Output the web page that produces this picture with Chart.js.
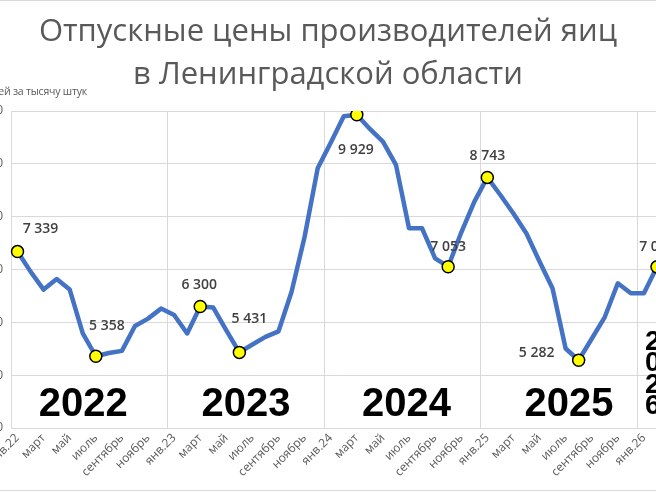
<!DOCTYPE html>
<html lang="ru">
<head>
<meta charset="utf-8">
<script src="https://cdn.jsdelivr.net/npm/chart.js@4.4.1/dist/chart.umd.min.js"></script>
<style>
  html,body{margin:0;padding:0;background:#fff;}
  body{width:656px;height:493px;overflow:hidden;position:relative;font-family:"Open Sans",sans-serif;}
  #frame{position:absolute;left:-10px;top:0;width:700px;height:489px;border-top:1px solid #d9d9d9;border-bottom:1px solid #d9d9d9;}
  #cv{position:absolute;left:-59px;top:0;}
  .title{position:absolute;left:0;width:656px;text-align:center;color:#595959;font-size:31px;line-height:1;white-space:nowrap;}
  #unit{position:absolute;right:569px;top:84px;font-size:10.5px;color:#595959;white-space:nowrap;letter-spacing:-0.2px;}
</style>
</head>
<body>
<div id="frame"></div>
<canvas id="cv" width="730" height="493" style="width:730px;height:493px"></canvas>
<div class="title" style="top:14px">Отпускные цены производителей яиц</div>
<div class="title" style="top:57px">в Ленинградской области</div>
<div id="unit">рублей за тысячу штук</div>
<script>
  // Data
  const years=['22','23','24','25','26'];
  const monthNames=['янв','февраль','март','апрель','май','июнь','июль','август','сентябрь','октябрь','ноябрь','декабрь'];
  // Jan 2022 .. Feb 2026, рублей за 1000 шт.
  const prices=[
    7339,6960,6620,6820,6620,5790,5358,5420,5460,5930,6070,6260,
    6140,5790,6300,6280,5850,5431,5580,5725,5830,6580,7620,8915,
    9400,9900,9929,9660,9420,8980,7780,7780,7210,7053,7700,8280,
    8743,8410,8060,7680,7150,6640,5505,5282,5690,6100,6740,6550,
    6550,7050
  ];
  const markedMonths=[0,6,14,17,26,33,36,43,49];
  const yearTexts=['2022','2023','2024','2025'];
  const yTicks=[4000,5000,6000,7000,8000,9000,10000];

  const labels=[];
  for(let i=0;i<prices.length;i++){
    const m=i%12, y=years[Math.floor(i/12)];
    labels.push(m===0?`${monthNames[0]}.${y}`:monthNames[m]);
  }

  const fmt=v=>String(v).replace(/\B(?=(\d{3})+(?!\d))/g,' ');
  const GRID='#d9d9d9', TXT='#595959';

  // label placement around marker (dx,dy)
  const labelOffsets={0:[23,-23],6:[11,-30],14:[-1,-21],17:[10,-33],26:[-1,35],33:[0,-20],36:[0,-21],43:[-42,-7],49:[0,-20]};
  // year caption nudges from mid-year
  const yearNudge=[-6,0,4,10];

  const overlay={
    id:'overlay',
    afterDatasetsDraw(chart){
      const {ctx,scales:{x}}=chart;
      const meta=chart.getDatasetMeta(0);
      ctx.save();
      // point labels
      ctx.font='600 14px "Open Sans"';
      ctx.fillStyle='#404040';
      ctx.textAlign='center'; ctx.textBaseline='middle';
      markedMonths.forEach(i=>{
        const p=meta.data[i]; const o=labelOffsets[i]||[0,-20];
        ctx.fillText(fmt(prices[i]),p.x+o[0],p.y+o[1]);
      });
      // year captions
      ctx.font='bold 40px "Liberation Sans"';
      ctx.fillStyle='#000';
      yearTexts.forEach((t,k)=>{
        const cx=(x.getPixelForValue(k*12+5)+x.getPixelForValue(k*12+6))/2+yearNudge[k];
        ctx.fillText(t,cx,405);
      });
      // 2026, squeezed into a narrow box (cut by the frame edge)
      ctx.font='bold 28px "Liberation Sans"';
      ctx.textAlign='left';
      const x26=x.getPixelForValue(48)+1;
      '2026'.split('').forEach((c,k)=>ctx.fillText(c,x26,342+k*21.5));
      ctx.restore();
    }
  };

  new Chart(document.getElementById('cv'),{
    type:'line',
    data:{labels,datasets:[{
      data:prices,
      borderColor:'#4472C4',borderWidth:4.5,tension:0,
      borderJoinStyle:'round',borderCapStyle:'round',
      pointRadius:c=>markedMonths.includes(c.dataIndex)?6:0,
      pointHoverRadius:0,
      pointBackgroundColor:'#FFFF00',pointBorderColor:'#000',pointBorderWidth:1.5
    }]},
    options:{
      responsive:false,animation:false,
      layout:{padding:{left:0,right:4,top:111,bottom:0}},
      plugins:{legend:{display:false},tooltip:{enabled:false}},
      scales:{
        x:{
          offset:true,
          grid:{offset:true,drawTicks:false,color:c=>c.index%12===0?GRID:'rgba(0,0,0,0)',lineWidth:1},
          border:{display:true,color:GRID,width:1},
          ticks:{autoSkip:false,minRotation:45,maxRotation:45,padding:3,color:TXT,font:{family:'"Open Sans"',size:12},
            callback:function(v,i){return i%2===0?this.getLabelForValue(v):'';}},
          afterFit:s=>{s.height=65;}
        },
        y:{
          min:4000,max:10000,
          afterBuildTicks:s=>{s.ticks=yTicks.map(v=>({value:v}));},
          grid:{color:GRID,drawTicks:false},
          border:{display:false},
          ticks:{padding:8,color:TXT,font:{family:'"Open Sans"',size:12},callback:v=>fmt(v)},
          afterFit:s=>{s.width=70;}
        }
      }
    },
    plugins:[overlay]
  });
</script>
</body>
</html>
